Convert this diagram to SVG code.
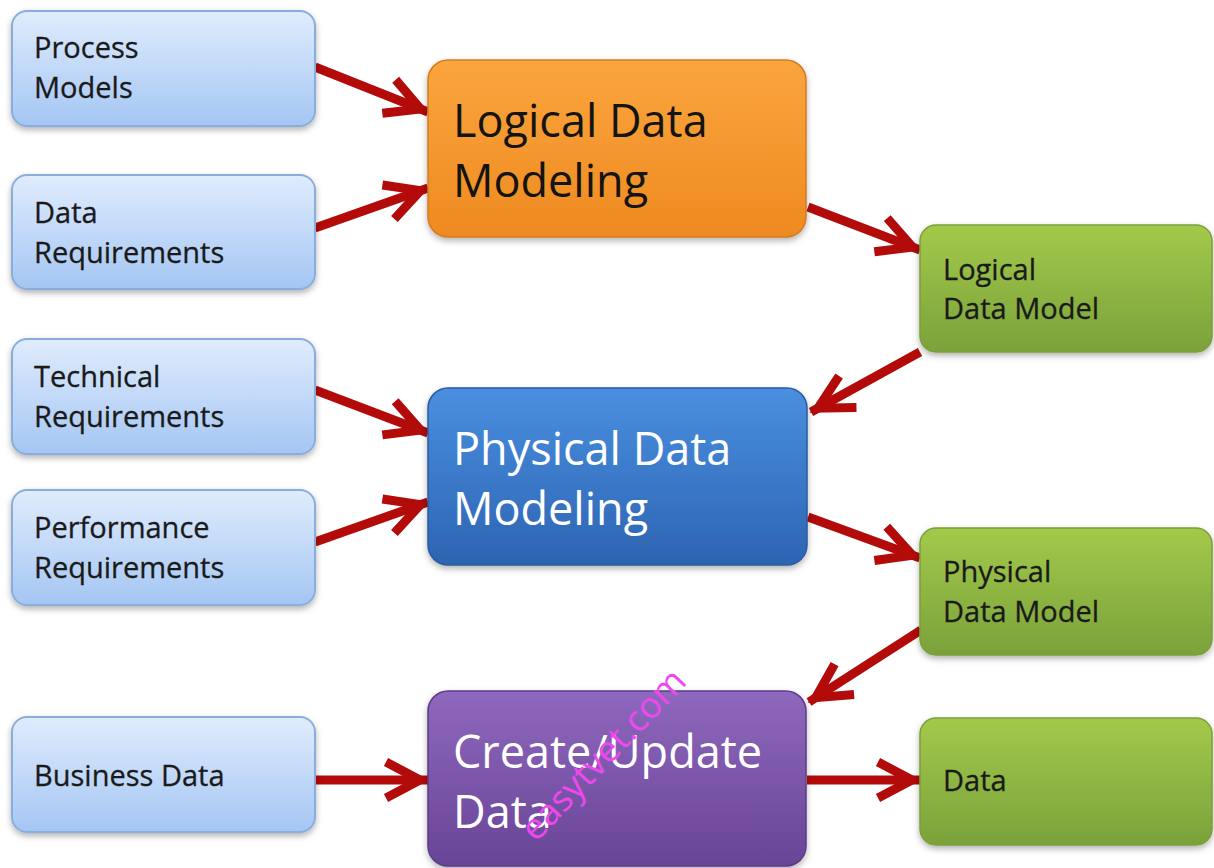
<svg xmlns="http://www.w3.org/2000/svg" width="1214" height="868" viewBox="0 0 1214 868">
  <defs>
    <linearGradient id="gInput" x1="0" y1="0" x2="0" y2="1">
      <stop offset="0" stop-color="#e0ecfd"/>
      <stop offset="1" stop-color="#a4c6f3"/>
    </linearGradient>
    <linearGradient id="gOrange" x1="0" y1="0" x2="0" y2="1">
      <stop offset="0" stop-color="#fba53e"/>
      <stop offset="1" stop-color="#ee8a20"/>
    </linearGradient>
    <linearGradient id="gBlue" x1="0" y1="0" x2="0" y2="1">
      <stop offset="0" stop-color="#4a8fe0"/>
      <stop offset="1" stop-color="#2d64b2"/>
    </linearGradient>
    <linearGradient id="gPurple" x1="0" y1="0" x2="0" y2="1">
      <stop offset="0" stop-color="#8e68bd"/>
      <stop offset="1" stop-color="#684496"/>
    </linearGradient>
    <linearGradient id="gGreen" x1="0" y1="0" x2="0" y2="1">
      <stop offset="0" stop-color="#a3c94b"/>
      <stop offset="1" stop-color="#7aa23a"/>
    </linearGradient>
    <filter id="shadow" x="-10%" y="-10%" width="120%" height="130%">
      <feDropShadow dx="0" dy="3" stdDeviation="3" flood-color="#000" flood-opacity="0.3"/>
    </filter>
    <!-- open chevron head for the red flow arrows -->
    <marker id="chevron" viewBox="-40 -24 52 48" markerWidth="52" markerHeight="48"
            refX="8" refY="0" orient="auto" markerUnits="userSpaceOnUse">
      <path d="M-34,-18 L0,0 L-34,18" fill="none" stroke="#b30a0a" stroke-width="9" stroke-linejoin="miter"/>
    </marker>
  </defs>
  <style>
    .input { fill: url(#gInput); stroke: #8aaedc; stroke-width: 2; filter: url(#shadow); }
    .orange { fill: url(#gOrange); stroke: #d27c22; stroke-width: 1.5; filter: url(#shadow); }
    .blue { fill: url(#gBlue); stroke: #2a5ca0; stroke-width: 1.5; filter: url(#shadow); }
    .purple { fill: url(#gPurple); stroke: #5d3b88; stroke-width: 1.5; filter: url(#shadow); }
    .green { fill: url(#gGreen); stroke: #7b9f3b; stroke-width: 1.5; filter: url(#shadow); }
    .small { font-family: "Open Sans", "Liberation Sans", sans-serif; font-size: 29px; fill: #1a1a1a; stroke: #1a1a1a; stroke-width: 0.3; }
    .big { font-family: "Open Sans", "Liberation Sans", sans-serif; font-size: 45px; }
    .dark { fill: #141414; }
    .light { fill: #ffffff; }
    .arrow { fill: none; stroke: #b30a0a; stroke-width: 9; marker-end: url(#chevron); }
    .mark { font-family: "Open Sans", "Liberation Sans", sans-serif; font-size: 36px; fill: #ee48ee; }
  </style>

  <g id="connectors">
    <line class="arrow" x1="315" y1="67" x2="428" y2="112"/>
    <line class="arrow" x1="315" y1="228" x2="428" y2="188"/>
    <line class="arrow" x1="808" y1="207" x2="920" y2="250"/>
    <line class="arrow" x1="920" y1="352" x2="811" y2="412"/>
    <line class="arrow" x1="315" y1="390" x2="428" y2="433"/>
    <line class="arrow" x1="315" y1="542" x2="428" y2="502"/>
    <line class="arrow" x1="808" y1="517" x2="920" y2="558"/>
    <line class="arrow" x1="921" y1="630" x2="809" y2="702"/>
    <line class="arrow" x1="315" y1="780" x2="428" y2="780"/>
    <line class="arrow" x1="807" y1="780" x2="920" y2="780"/>
  </g>

  <g id="process-models">
    <rect class="input" x="12" y="11" width="303" height="115" rx="15"/>
    <text class="small" x="34" y="58">Process</text>
    <text class="small" x="34" y="98">Models</text>
  </g>
  <g id="data-requirements">
    <rect class="input" x="12" y="175" width="303" height="114" rx="15"/>
    <text class="small" x="34" y="223">Data</text>
    <text class="small" x="34" y="263">Requirements</text>
  </g>
  <g id="technical-requirements">
    <rect class="input" x="12" y="339" width="303" height="115" rx="15"/>
    <text class="small" x="34" y="387">Technical</text>
    <text class="small" x="34" y="427">Requirements</text>
  </g>
  <g id="performance-requirements">
    <rect class="input" x="12" y="490" width="303" height="115" rx="15"/>
    <text class="small" x="34" y="538">Performance</text>
    <text class="small" x="34" y="578">Requirements</text>
  </g>
  <g id="business-data">
    <rect class="input" x="12" y="717" width="303" height="115" rx="15"/>
    <text class="small" x="34" y="786">Business Data</text>
  </g>

  <g id="logical-data-modeling">
    <rect class="orange" x="428" y="60" width="378" height="177" rx="20"/>
    <text class="big dark" x="453" y="137">Logical Data</text>
    <text class="big dark" x="453" y="197">Modeling</text>
  </g>
  <g id="physical-data-modeling">
    <rect class="blue" x="428" y="388" width="379" height="177" rx="20"/>
    <text class="big light" x="453" y="465">Physical Data</text>
    <text class="big light" x="453" y="525">Modeling</text>
  </g>
  <g id="create-update-data">
    <rect class="purple" x="428" y="691" width="378" height="175" rx="20"/>
    <text class="big light" x="453" y="768">Create/Update</text>
    <text class="big light" x="453" y="828">Data</text>
  </g>

  <g id="logical-data-model">
    <rect class="green" x="920" y="225" width="292" height="127" rx="16"/>
    <text class="small" x="943" y="280">Logical</text>
    <text class="small" x="943" y="319">Data Model</text>
  </g>
  <g id="physical-data-model">
    <rect class="green" x="920" y="528" width="292" height="127" rx="16"/>
    <text class="small" x="943" y="582">Physical</text>
    <text class="small" x="943" y="622">Data Model</text>
  </g>
  <g id="data">
    <rect class="green" x="920" y="718" width="292" height="127" rx="16"/>
    <text class="small" x="943" y="791">Data</text>
  </g>

  <text class="mark" transform="translate(536 843) rotate(-46.5)">easytvet.com</text>
</svg>
